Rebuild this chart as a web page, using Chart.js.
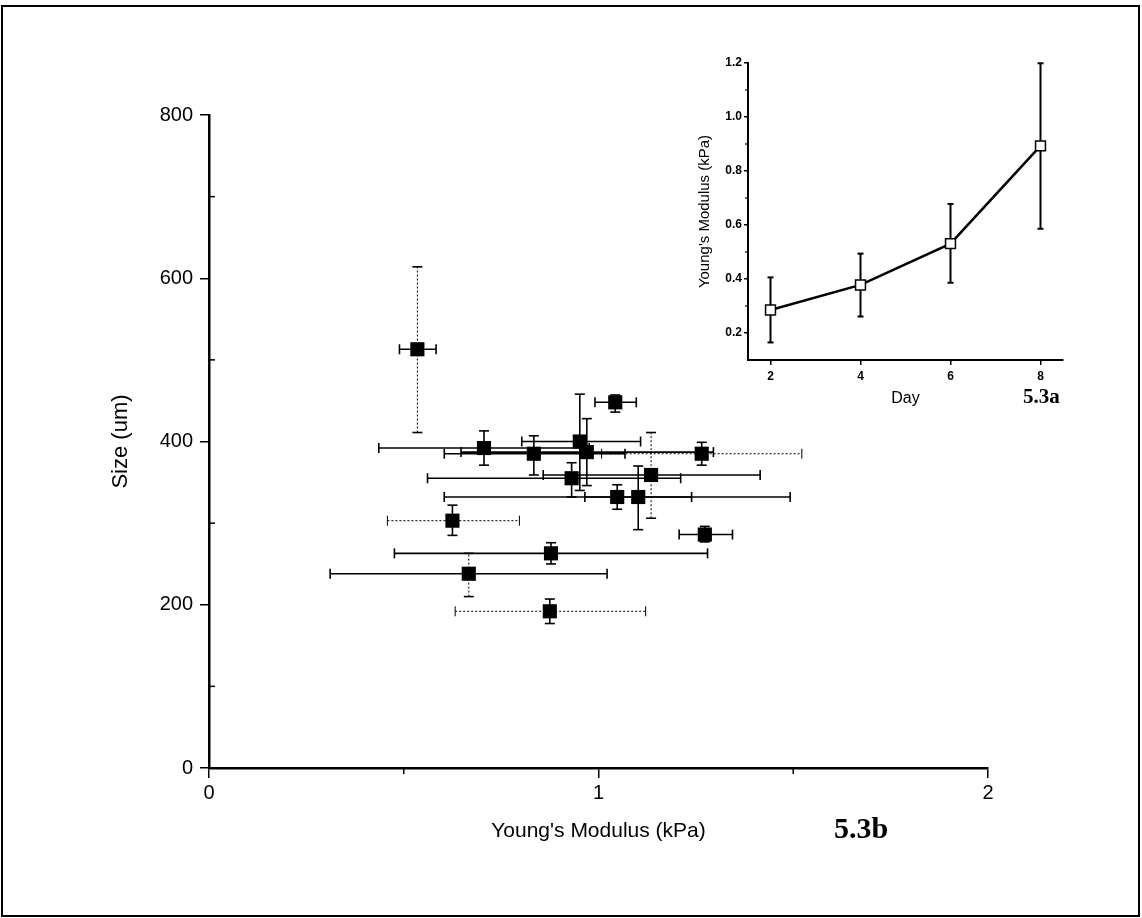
<!DOCTYPE html>
<html lang="en">
<head>
<meta charset="UTF-8">
<title>Young's Modulus vs Size</title>
<script src="https://cdn.jsdelivr.net/npm/chart.js@4"></script>
<style>
  body { margin: 0; background: #fff; }
  #page { position: relative; width: 1142px; height: 918px; overflow: hidden; background: #fff; }
  #frame { position: absolute; left: 1px; top: 5px; width: 1135px; height: 908px; border: 2px solid #000; pointer-events: none; }
  #main { position: absolute; left: 0; top: 0; }
  #inset { position: absolute; left: 690px; top: 20px; }
  .tag { position: absolute; font-family: "Liberation Serif", "DejaVu Serif", serif; font-weight: bold; color: #000; }
</style>
</head>
<body>
<div id="page">
  <canvas id="main" width="1142" height="918"></canvas>
  <canvas id="inset" width="410" height="400"></canvas>
  <div class="tag" style="left:1023px; top:384px; font-size:21px;">5.3a</div>
  <div class="tag" style="left:834px; top:811px; font-size:30px;">5.3b</div>
  <div id="frame"></div>
</div>

<script>
// main plot: size vs Young's modulus, one entry per sample
const modulus     = [0.535, 1.043, 0.706, 0.952, 0.970, 0.834, 1.265, 0.931, 1.135, 1.048, 1.102, 0.625, 1.273, 0.878, 0.667, 0.875]
const modulusLow  = [0.489, 0.991, 0.436, 0.803, 0.647, 0.604, 1.008, 0.561, 0.858, 0.604, 0.965, 0.458, 1.207, 0.476, 0.311, 0.632]
const modulusHigh = [0.583, 1.097, 0.976, 1.108, 1.295, 1.068, 1.522, 1.211, 1.415, 1.492, 1.239, 0.797, 1.344, 1.280, 1.022, 1.121]
const size        = [513, 448, 392, 400, 387, 385, 385, 355, 359, 332, 332, 303, 286, 263, 238, 192]
const sizeLow     = [411, 436, 371, 340, 346, 359, 371, 332, 306, 317, 292, 285, 277, 250, 210, 177]
const sizeHigh    = [614, 457, 413, 458, 428, 407, 399, 374, 411, 347, 370, 322, 296, 276, 263, 207]

const mainXTicks = [0, 1, 2]
const mainXMinor = [0.5, 1.5]
const mainYTicks = [0, 200, 400, 600, 800]
const mainYMinor = [100, 300, 500, 700]

// inset: modulus by day
const days        = [2, 4, 6, 8]
const dayModulus  = [0.285, 0.378, 0.531, 0.893]
const dayLow      = [0.165, 0.261, 0.386, 0.586]
const dayHigh     = [0.406, 0.494, 0.678, 1.199]

const insetXTicks = [2, 4, 6, 8]
const insetYTicks = [0.2, 0.4, 0.6, 0.8, 1.0, 1.2]
const insetYMinor = [0.3, 0.5, 0.7, 0.9, 1.1]

const FONT = 'Liberation Sans'

// error bars drawn under the markers, through the chart scales
const errorBars = {
  id: 'errorBars',
  beforeDatasetsDraw(chart, args, opts) {
    const { ctx, scales: { x, y } } = chart
    const line = (x1, y1, x2, y2) => { ctx.beginPath(); ctx.moveTo(x1, y1); ctx.lineTo(x2, y2); ctx.stroke() }
    chart.data.datasets.forEach(ds => {
      const e = ds.errors
      if (!e) return
      ds.data.forEach((p, i) => {
        const px = x.getPixelForValue(p.x)
        const py = y.getPixelForValue(p.y)
        ctx.save()
        ctx.strokeStyle = '#000'
        if (e.xLow) {
          const dotted = (opts.dottedX || []).includes(i)
          ctx.lineWidth = dotted ? 1 : opts.width
          ctx.setLineDash(dotted ? [2, 2] : [])
          const x1 = x.getPixelForValue(e.xLow[i]), x2 = x.getPixelForValue(e.xHigh[i])
          line(x1, py, x2, py)
          ctx.setLineDash([])
          line(x1, py - opts.cap, x1, py + opts.cap)
          line(x2, py - opts.cap, x2, py + opts.cap)
        }
        if (e.yLow) {
          const dotted = (opts.dottedY || []).includes(i)
          ctx.lineWidth = dotted ? 1 : opts.width
          ctx.setLineDash(dotted ? [2, 2] : [])
          const y1 = y.getPixelForValue(e.yLow[i]), y2 = y.getPixelForValue(e.yHigh[i])
          line(px, y1, px, y2)
          ctx.setLineDash([])
          ctx.lineWidth = opts.width
          line(px - opts.cap, y1, px + opts.cap, y1)
          line(px - opts.cap, y2, px + opts.cap, y2)
        }
        ctx.restore()
      })
    })
  }
}

// small unlabeled ticks
const minorTicks = {
  id: 'minorTicks',
  afterDraw(chart, args, opts) {
    const { ctx, scales: { x, y }, chartArea: a } = chart
    ctx.save()
    ctx.strokeStyle = '#000'
    ctx.lineWidth = opts.width
    ;(opts.x || []).forEach(v => {
      const px = x.getPixelForValue(v)
      ctx.beginPath(); ctx.moveTo(px, a.bottom); ctx.lineTo(px, a.bottom + opts.xLen); ctx.stroke()
    })
    ;(opts.y || []).forEach(v => {
      const py = y.getPixelForValue(v)
      ctx.beginPath(); ctx.moveTo(a.left, py); ctx.lineTo(a.left + opts.yLen, py); ctx.stroke()
    })
    ctx.restore()
  }
}

const fixTicks = list => s => { s.ticks = list.map(v => ({ value: v })) }

new Chart(document.getElementById('main'), {
  type: 'scatter',
  data: {
    datasets: [{
      data: modulus.map((m, i) => ({ x: m, y: size[i] })),
      errors: { xLow: modulusLow, xHigh: modulusHigh, yLow: sizeLow, yHigh: sizeHigh },
      pointStyle: 'rect',
      pointRadius: 10,
      pointHoverRadius: 10,
      backgroundColor: '#000',
      borderColor: '#000',
      borderWidth: 0
    }]
  },
  options: {
    responsive: false,
    animation: false,
    events: [],
    layout: { padding: { left: 0, right: 154, top: 115, bottom: 0 } },
    plugins: {
      legend: { display: false },
      tooltip: { enabled: false },
      errorBars: { width: 1.6, cap: 5, dottedX: [6, 11, 15], dottedY: [0, 8, 14] },
      minorTicks: { x: mainXMinor, y: mainYMinor, xLen: 6, yLen: 6, width: 1.5 }
    },
    scales: {
      x: {
        type: 'linear', min: 0, max: 2,
        afterBuildTicks: fixTicks(mainXTicks),
        afterFit: s => { s.height = 150 },
        border: { color: '#000', width: 2.5 },
        grid: { drawOnChartArea: false, color: '#000', lineWidth: 1.5, tickLength: 10 },
        ticks: { color: '#000', font: { family: FONT, size: 20 }, padding: 3, maxRotation: 0, callback: v => String(v) },
        title: { display: true, text: "Young's Modulus (kPa)", color: '#000', font: { family: FONT, size: 21 }, padding: { top: 0, bottom: 74 } }
      },
      y: {
        type: 'linear', min: 0, max: 800,
        afterBuildTicks: fixTicks(mainYTicks),
        afterFit: s => { s.width = 209 },
        border: { color: '#000', width: 2.5 },
        grid: { drawOnChartArea: false, color: '#000', lineWidth: 1.5, tickLength: 9 },
        ticks: { color: '#000', font: { family: FONT, size: 20 }, padding: 7, callback: v => String(v) },
        title: { display: true, text: 'Size (um)', color: '#000', font: { family: FONT, size: 22 }, padding: { top: 108, bottom: 0 } }
      }
    }
  },
  plugins: [errorBars, minorTicks]
})

new Chart(document.getElementById('inset'), {
  type: 'scatter',
  data: {
    datasets: [{
      data: days.map((d, i) => ({ x: d, y: dayModulus[i] })),
      errors: { yLow: dayLow, yHigh: dayHigh },
      showLine: true,
      borderColor: '#000',
      borderWidth: 2.5,
      pointStyle: 'rect',
      pointRadius: 7,
      pointHoverRadius: 7,
      pointBackgroundColor: '#fff',
      pointBorderColor: '#000',
      pointBorderWidth: 1.5
    }]
  },
  options: {
    responsive: false,
    animation: false,
    events: [],
    layout: { padding: { left: 0, right: 37, top: 43, bottom: 0 } },
    plugins: {
      legend: { display: false },
      tooltip: { enabled: false },
      errorBars: { width: 2, cap: 3 },
      minorTicks: { y: insetYMinor, yLen: -3, width: 1.2 }
    },
    scales: {
      x: {
        type: 'linear', min: 1.5, max: 8.5,
        afterBuildTicks: fixTicks(insetXTicks),
        afterFit: s => { s.height = 60 },
        border: { color: '#000', width: 2 },
        grid: { drawOnChartArea: false, color: '#000', lineWidth: 1.5, tickLength: 5 },
        ticks: { color: '#000', font: { family: FONT, size: 12, weight: 'bold' }, padding: 4, maxRotation: 0, callback: v => String(v) },
        title: { display: true, text: 'Day', color: '#000', font: { family: FONT, size: 16 }, padding: { top: 0, bottom: 12 } }
      },
      y: {
        type: 'linear', min: 0.1, max: 1.2,
        afterBuildTicks: fixTicks(insetYTicks),
        afterFit: s => { s.width = 58 },
        border: { color: '#000', width: 2 },
        grid: { drawOnChartArea: false, color: '#000', lineWidth: 1.5, tickLength: 4 },
        ticks: { color: '#000', font: { family: FONT, size: 12, weight: 'bold' }, padding: 2, callback: v => v.toFixed(1) },
        title: { display: true, text: "Young's Modulus (kPa)", color: '#000', font: { family: FONT, size: 15 }, padding: { top: 6, bottom: 0 } }
      }
    }
  },
  plugins: [errorBars, minorTicks]
})
</script>
</body>
</html>
